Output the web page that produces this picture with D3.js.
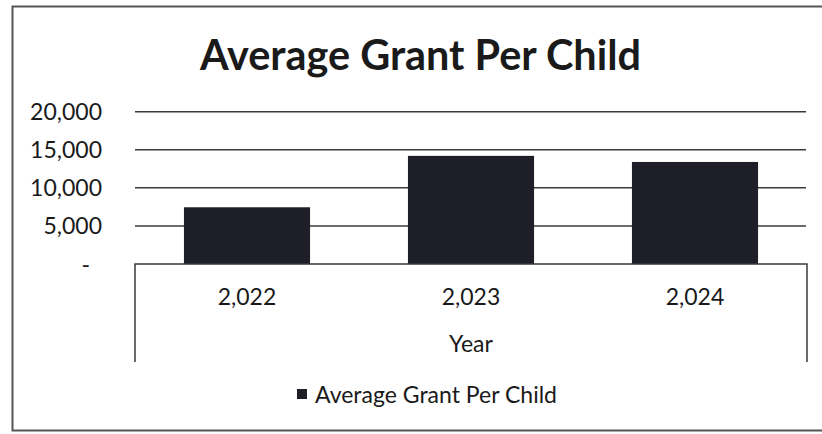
<!DOCTYPE html>
<html>
<head>
<meta charset="utf-8">
<script src="https://cdn.jsdelivr.net/npm/d3@7"></script>
<style>
  html, body { margin: 0; padding: 0; background: #fff; }
  svg { display: block; }
  text { font-family: Lato, "Open Sans", "Noto Sans", sans-serif; fill: #1a1a1a; }
</style>
</head>
<body>
<svg id="chart" width="822" height="434"></svg>
<script>
// Chart data
const chartTitle = "Average Grant Per Child";
const years = [2022, 2023, 2024];
const avgGrant = [7450, 14200, 13400];
const yTicks = [0, 5000, 10000, 15000, 20000];
const xAxisTitle = "Year";
const seriesName = "Average Grant Per Child";

const W = 822, H = 434;
const plot = { left: 135, right: 807, top: 111.7, bottom: 264 };
const barColor = "#1e1e28";
const gridColor = "#3a3a3a";
const fontStack = "Lato, 'Open Sans', sans-serif";

const svg = d3.select("#chart");

// Outer chart border
svg.append("path")
  .attr("d", `M822,6.5 L12.5,6.5 L12.5,430.5 L822,430.5`)
  .attr("fill", "none").attr("stroke", "#555").attr("stroke-width", 2);

// Fit a text element's font size so it spans a given width
function fitWidth(sel, base, width) {
  sel.style("font-size", base + "px");
  const w = sel.node().getComputedTextLength();
  const size = base * width / w;
  sel.style("font-size", size.toFixed(2) + "px");
  return size;
}

// Title
const title = svg.append("text")
  .attr("x", (200 + 641) / 2).attr("y", 70)
  .attr("text-anchor", "middle")
  .style("font-weight", 700)
  .text(chartTitle);
fitWidth(title, 40, 441);

// Legend (its width sets the body text size)
const lg = svg.append("g");
lg.append("rect").attr("x", 297).attr("y", 389).attr("width", 10).attr("height", 10).attr("fill", barColor);
const legendText = lg.append("text").attr("x", 315).attr("y", 403).text(seriesName);
const bodySize = fitWidth(legendText, 20, 242);

const fmt = d3.format(",");
const x = d3.scaleBand().domain(years).range([plot.left, plot.right]).paddingInner(0.437).paddingOuter(0.2185);
const y = d3.scaleLinear().domain([0, 20000]).range([plot.bottom, plot.top]);

// Horizontal gridlines
svg.append("g").selectAll("line").data(yTicks.filter(d => d > 0)).join("line")
  .attr("x1", plot.left).attr("x2", plot.right - 1)
  .attr("y1", d => y(d)).attr("y2", d => y(d))
  .attr("stroke", gridColor).attr("stroke-width", 1.5);

// Y tick labels (zero shown as a dash)
const yAxis = d3.axisLeft(y).tickValues(yTicks).tickSize(0).tickPadding(0)
  .tickFormat(d => d === 0 ? "-" : fmt(d));
const gy = svg.append("g").attr("transform", `translate(102,0)`).call(yAxis);
gy.select(".domain").remove();
gy.selectAll("text")
  .style("font-family", fontStack)
  .style("font-size", bodySize + "px").attr("fill", "#1a1a1a")
  .attr("dy", "0.35em")
  .attr("x", d => d === 0 ? -12 : 0);

// Bars
svg.append("g").selectAll("rect").data(years).join("rect")
  .attr("x", d => x(d))
  .attr("width", x.bandwidth())
  .attr("y", (d, i) => y(avgGrant[i]))
  .attr("height", (d, i) => y(0) - y(avgGrant[i]))
  .attr("fill", barColor);

// Category axis frame
svg.append("path")
  .attr("d", `M${plot.left},362 L${plot.left},${plot.bottom} L${plot.right},${plot.bottom} L${plot.right},362`)
  .attr("fill", "none").attr("stroke", gridColor).attr("stroke-width", 1.5);

// X tick labels
const xAxis = d3.axisBottom(x).tickSize(0).tickPadding(0).tickFormat(d => fmt(d));
const gx = svg.append("g").attr("transform", `translate(0,305)`).call(xAxis);
gx.select(".domain").remove();
gx.selectAll("text")
  .style("font-family", fontStack)
  .style("font-size", bodySize + "px").attr("fill", "#1a1a1a")
  .attr("dy", 0);

// Axis title
svg.append("text")
  .attr("x", (plot.left + plot.right) / 2).attr("y", 352)
  .attr("text-anchor", "middle").style("font-size", bodySize + "px")
  .text(xAxisTitle);
</script>
</body>
</html>
